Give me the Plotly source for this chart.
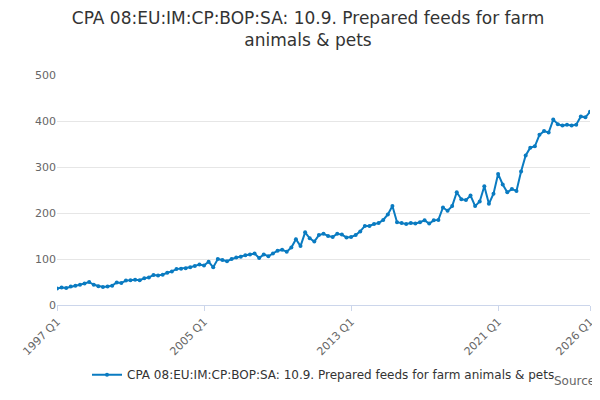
import plotly.graph_objects as go

years = list(range(1997, 2026))
values = [
    36, 38, 37, 40,  42, 44, 47, 50,  44, 41, 39, 40,  42, 49, 48, 53,
    54, 55, 54, 58,  60, 65, 64, 66,  70, 73, 78, 79,  80, 82, 85, 88,
    86, 94, 82, 100,  98, 95, 100, 103,  105, 108, 110, 112,  102, 110, 106, 112,
    118, 120, 116, 125,  143, 128, 158, 145,  138, 152, 155, 150,  148, 155, 153, 147,
    148, 152, 160, 172,  172, 176, 178, 185,  197, 215, 180, 178,  176, 178, 177, 180,
    184, 177, 184, 185,  212, 205, 215, 245,  230, 228, 238, 215,  225, 258, 220, 242,
    285, 262, 245, 252,  248, 290, 325, 342,  345, 370, 378, 375,  403, 393, 390, 392,
    390, 392, 410, 408,  420,
]
quarters = [f"{y} Q{q}" for y in years for q in range(1, 5)] + ["2026 Q1"]
tick_labels = ["1997 Q1", "2005 Q1", "2013 Q1", "2021 Q1", "2026 Q1"]
name = "CPA 08:EU:IM:CP:BOP:SA: 10.9. Prepared feeds for farm animals & pets"

fig = go.Figure(go.Scatter(
    x=quarters, y=values, mode="lines+markers", name=name,
    line=dict(color="#0a7bc1", width=2), marker=dict(size=4),
))
fig.update_layout(
    width=600, height=400, plot_bgcolor="white", paper_bgcolor="white",
    font=dict(family="DejaVu Sans", color="#333"),
    title=dict(text="CPA 08:EU:IM:CP:BOP:SA: 10.9. Prepared feeds for farm<br>animals & pets",
               x=0.5, y=0.96, font=dict(size=17)),
    margin=dict(l=45, r=18, t=67, b=103),
    showlegend=True,
    legend=dict(orientation="h", x=0.5, xanchor="center", y=-0.24, font=dict(size=12)),
)
fig.update_xaxes(type="category", tickmode="array", tickvals=tick_labels, tickangle=-45,
                 range=[0, len(quarters) - 1],
                 ticks="outside", tickcolor="#ccd6eb", showline=True, linecolor="#ccd6eb",
                 showgrid=False, tickfont=dict(size=11, color="#666"))
fig.update_yaxes(range=[0, 500], dtick=100, gridcolor="#e6e6e6", zeroline=False,
                 tickfont=dict(size=11, color="#666"))
fig.add_annotation(text="Source:", x=1.02, y=-0.37, xref="paper", yref="paper",
                   xanchor="right", showarrow=False, font=dict(size=12, color="#666"))
fig.write_html("out.html")
